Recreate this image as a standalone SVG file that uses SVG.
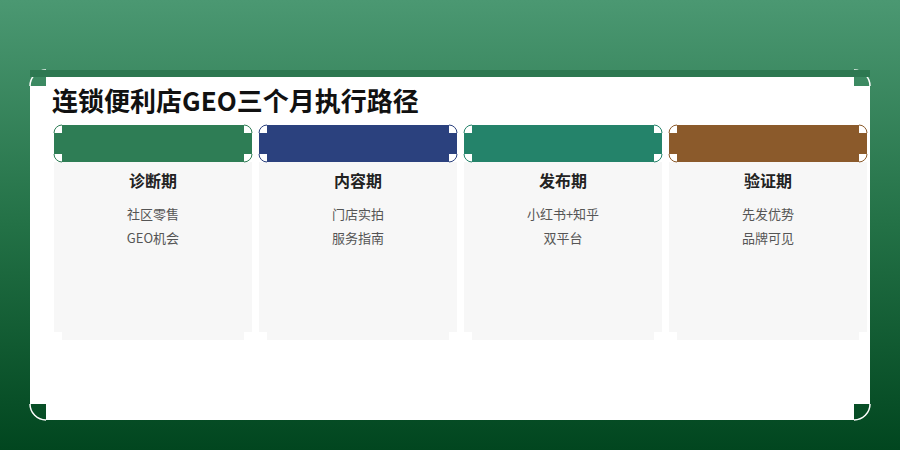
<svg xmlns="http://www.w3.org/2000/svg" width="900" height="450" viewBox="0 0 900 450">
  <defs>
    <linearGradient id="bg" x1="0" y1="0" x2="0" y2="1">
      <stop offset="0" stop-color="#4b9872"/>
      <stop offset="0.5" stop-color="#237146"/>
      <stop offset="1" stop-color="#01461f"/>
    </linearGradient>
    <style>
      text{font-family:"Noto Sans CJK SC","Noto Sans",sans-serif;text-anchor:middle}
      .title{font-size:26px;font-weight:700;fill:#111;text-anchor:start}
      .h{font-size:16px;font-weight:700;fill:#222}
      .t{font-size:13px;fill:#555}
      .body{fill:#f7f7f7}
      .arcw{fill:none;stroke:#fff;stroke-width:1.5}
    </style>
  </defs>
  <rect x="0" y="0" width="900" height="450" fill="url(#bg)"/>
  <g id="card">
    <path d="M46,70 H854 V86 H870 V404 H854 V420 H46 V404 H30 V86 H46 Z" fill="#fff"/>
    <path class="arcw" d="M30,86 A16,16 0 0 1 46,70 M854,70 A16,16 0 0 1 870,86 M870,404 A16,16 0 0 1 854,420 M46,420 A16,16 0 0 1 30,404"/>
    <rect x="30" y="70" width="840" height="7" fill="#2d7851"/>
  </g>
  <text id="title" class="title" x="52" y="111">连锁便利店GEO三个月执行路径</text>
  <g id="col1" transform="translate(54,0)">
    <path class="body" d="M0,162 H198 V332 H190 V340 H8 V332 H0 Z"/>
    <path d="M8,125 H190 V133 H198 V154 H190 V162 H8 V154 H0 V133 H8 Z" fill="#2e7d55"/>
    <path fill="none" stroke="#2e7d55" d="M0,133 A8,8 0 0 1 8,125 M190,125 A8,8 0 0 1 198,133 M198,154 A8,8 0 0 1 190,162 M8,162 A8,8 0 0 1 0,154"/>
    <text class="h" x="99" y="187">诊断期</text>
    <text class="t" x="99" y="219">社区零售</text>
    <text class="t" x="99" y="243">GEO机会</text>
  </g>
  <g id="col2" transform="translate(259,0)">
    <path class="body" d="M0,162 H198 V332 H190 V340 H8 V332 H0 Z"/>
    <path d="M8,125 H190 V133 H198 V154 H190 V162 H8 V154 H0 V133 H8 Z" fill="#2b417e"/>
    <path fill="none" stroke="#2b417e" d="M0,133 A8,8 0 0 1 8,125 M190,125 A8,8 0 0 1 198,133 M198,154 A8,8 0 0 1 190,162 M8,162 A8,8 0 0 1 0,154"/>
    <text class="h" x="99" y="187">内容期</text>
    <text class="t" x="99" y="219">门店实拍</text>
    <text class="t" x="99" y="243">服务指南</text>
  </g>
  <g id="col3" transform="translate(464,0)">
    <path class="body" d="M0,162 H198 V332 H190 V340 H8 V332 H0 Z"/>
    <path d="M8,125 H190 V133 H198 V154 H190 V162 H8 V154 H0 V133 H8 Z" fill="#24836a"/>
    <path fill="none" stroke="#24836a" d="M0,133 A8,8 0 0 1 8,125 M190,125 A8,8 0 0 1 198,133 M198,154 A8,8 0 0 1 190,162 M8,162 A8,8 0 0 1 0,154"/>
    <text class="h" x="99" y="187">发布期</text>
    <text class="t" x="99" y="219">小红书+知乎</text>
    <text class="t" x="99" y="243">双平台</text>
  </g>
  <g id="col4" transform="translate(669,0)">
    <path class="body" d="M0,162 H198 V332 H190 V340 H8 V332 H0 Z"/>
    <path d="M8,125 H190 V133 H198 V154 H190 V162 H8 V154 H0 V133 H8 Z" fill="#8b5a2b"/>
    <path fill="none" stroke="#8b5a2b" d="M0,133 A8,8 0 0 1 8,125 M190,125 A8,8 0 0 1 198,133 M198,154 A8,8 0 0 1 190,162 M8,162 A8,8 0 0 1 0,154"/>
    <text class="h" x="99" y="187">验证期</text>
    <text class="t" x="99" y="219">先发优势</text>
    <text class="t" x="99" y="243">品牌可见</text>
  </g>
</svg>
